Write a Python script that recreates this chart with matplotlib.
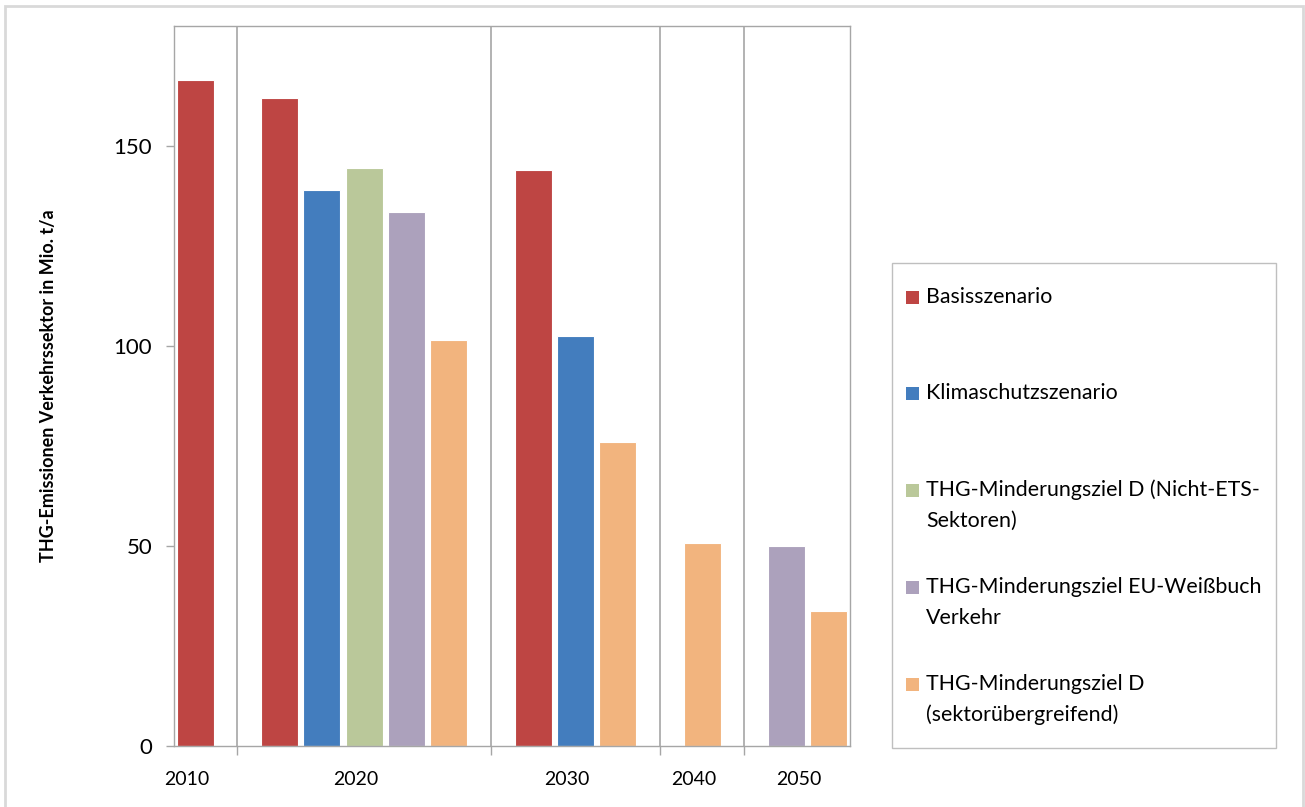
import numpy as np
import matplotlib
matplotlib.use('Agg')
import matplotlib.pyplot as plt
from matplotlib.patches import Rectangle

# values (Mio. t/a), None = no bar
years = ['2010', '2020', '2030', '2040', '2050']
series_names = [
    'Basisszenario',
    'Klimaschutzszenario',
    'THG-Minderungsziel D (Nicht-ETS-\nSektoren)',
    'THG-Minderungsziel EU-Weißbuch\nVerkehr',
    'THG-Minderungsziel D\n(sektorübergreifend)',
]
basis = [166.5, 162.0, 144.0, None, None]
klima = [None, 139.1, 102.5, None, None]
nicht_ets = [None, 144.5, None, None, None]
weissbuch = [None, 133.4, None, None, 50.0]
sektor = [None, 101.4, 76.0, 50.7, 33.8]
colors = ['#BE4543', '#437DBE', '#BAC89A', '#ACA1BC', '#F2B47E']

all_series = [basis, klima, nicht_ets, weissbuch, sektor]

plt.rcParams['font.family'] = ['Lato', 'DejaVu Sans']

fig = plt.figure(figsize=(13.05, 8.07), dpi=100)
W, H = 1305, 807
ax = fig.add_axes([174 / W, 1 - 746 / H, 676 / W, 720 / H])

# lay the bars out slot by slot, one empty slot between year groups
slot = 0
label_pos = []
separators = []
for yi, yr in enumerate(years):
    start = slot
    for si, vals in enumerate(all_series):
        v = vals[yi]
        if v is None:
            continue
        ax.bar(slot, v, width=0.88, color=colors[si], edgecolor='white', linewidth=0.8)
        slot += 1
    label_pos.append((start + slot - 1) / 2 - 0.2)
    if yi < len(years) - 1:
        separators.append(slot)
        slot += 1

ax.set_xlim(-0.5, slot - 0.5)
ax.set_ylim(0, 180)
ax.set_yticks([0, 50, 100, 150])
grey = '#A6A6A6'
for sp in ax.spines.values():
    sp.set_color(grey)
    sp.set_linewidth(1.0)
for s in separators:
    ax.axvline(s, color=grey, linewidth=1.2)

ax.set_xticks(label_pos)
ax.set_xticklabels(years, fontsize=14)
ax.set_xticks(separators, minor=True)
ax.tick_params(axis='x', which='major', length=0, pad=18)
ax.tick_params(axis='x', which='minor', length=6.5, color=grey, width=1)
ax.tick_params(axis='y', length=5.8, color=grey, width=1, labelsize=16, pad=10)

ax.set_ylabel('THG-Emissionen Verkehrssektor in Mio. t/a', fontsize=13, fontweight='bold')
ax.yaxis.set_label_coords(-0.173, 0.5)

# legend box drawn by hand so the swatch sits on the first line like the original
fig.patches.append(Rectangle((892 / W, 1 - 748 / H), 384 / W, 485 / H,
                             transform=fig.transFigure, facecolor='white',
                             edgecolor='#BFBFBF', linewidth=1.0))
first_lines = [297, 393, 490, 587, 684]
for name, c, py in zip(series_names, colors, first_lines):
    fig.patches.append(Rectangle((906 / W, 1 - (py + 6.5) / H), 13 / W, 13 / H,
                                 transform=fig.transFigure, facecolor=c, edgecolor='none'))
    for i, line in enumerate(name.split('\n')):
        fig.text(926 / W, 1 - (py + i * 31) / H, line, fontsize=15.4, va='center', ha='left')

# outer frame
fig.patches.append(Rectangle((5 / W, -0.01), 1298 / W, 1 - 6 / H + 0.01,
                             transform=fig.transFigure, facecolor='none',
                             edgecolor='#D9D9D9', linewidth=2))

fig.savefig('out.png', dpi=100)
